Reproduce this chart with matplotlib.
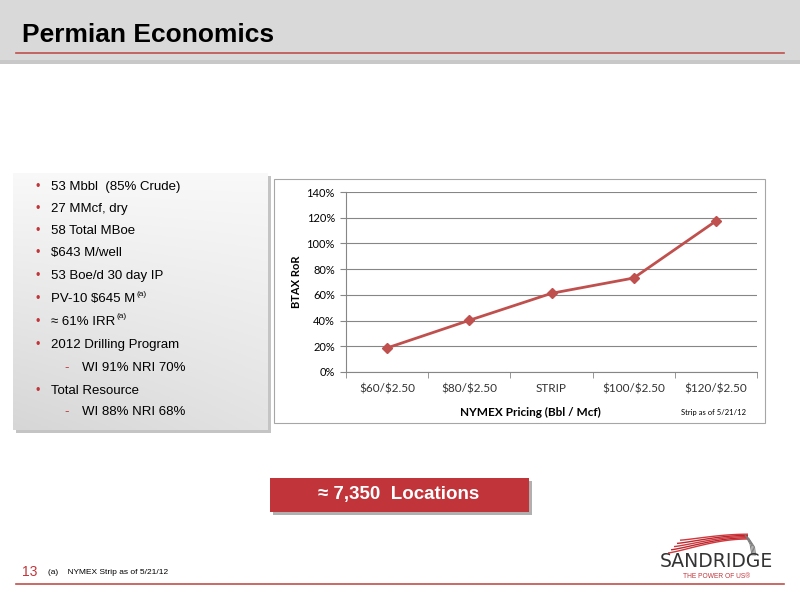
import numpy as np
import matplotlib.pyplot as plt
from matplotlib.patches import Rectangle
from matplotlib.lines import Line2D

plt.rcParams['text.parse_math'] = False
plt.rcParams['font.family'] = ['Liberation Sans', 'DejaVu Sans']

# chart data
categories = ['$60/$2.50', '$80/$2.50', 'STRIP', '$100/$2.50', '$120/$2.50']
ror = [18.7, 40.2, 61.2, 73.1, 117.4]
yticks = [0, 20, 40, 60, 80, 100, 120, 140]

# bullet text
bullets = [
    (0, '53 Mbbl  (85% Crude)', ''),
    (0, '27 MMcf, dry', ''),
    (0, '58 Total MBoe', ''),
    (0, '$643 M/well', ''),
    (0, '53 Boe/d 30 day IP', ''),
    (0, 'PV-10 $645 M', '(a)'),
    (0, '\u2248 61% IRR', '(a)'),
    (0, '2012 Drilling Program', ''),
    (1, 'WI 91% NRI 70%', ''),
    (0, 'Total Resource', ''),
    (1, 'WI 88% NRI 68%', ''),
]
bullet_y = [187, 209, 231, 253, 276, 299, 322, 345, 368, 391, 412]

W, H = 800, 600
fig = plt.figure(figsize=(8, 6), dpi=100)
red = '#C0343A'


def fx(x):
    return x / W


def fy(y):
    return 1 - y / H


def add_rect(x0, y0, x1, y1, z=0, **kw):
    r = Rectangle((fx(x0), fy(y1)), fx(x1 - x0), (y1 - y0) / H,
                  transform=fig.transFigure, zorder=z, **kw)
    fig.patches.append(r)
    return r


# header band
add_rect(0, 0, 800, 62, facecolor='#D9D9D9', edgecolor='none')
add_rect(0, 60, 800, 64, facecolor='#C8C8C8', edgecolor='none')
fig.text(fx(22), fy(35), 'Permian Economics', fontsize=19, fontweight='bold',
         va='center', ha='left', color='black')
fig.lines.append(Line2D([fx(16), fx(784)], [fy(53), fy(53)], color='#C0504D',
                        lw=1.2, transform=fig.transFigure))

# bullet box with gradient + shadow
add_rect(16, 176, 271, 433, facecolor='#C4C4C4', edgecolor='none')
gax = fig.add_axes([fx(13), fy(430), fx(268 - 13), (430 - 173) / H])
gax.set_zorder(1)
top = np.array([0.975, 0.975, 0.975])
bot = np.array([0.84, 0.84, 0.84])
tcol = np.linspace(0, 1, 120)[:, None, None]
xrow = np.linspace(0, 1, 60)[None, :, None]
mix = np.clip(tcol * (1 - 0.35 * xrow), 0, 1)
img = top * (1 - mix) + bot * mix
gax.imshow(img, aspect='auto', extent=[0, 1, 0, 1], origin='upper')
gax.set_axis_off()

for (lvl, txt, sup), y in zip(bullets, bullet_y):
    if lvl == 0:
        fig.text(fx(36), fy(y), '\u2022', color=red, fontsize=9, va='center', zorder=5)
        t = fig.text(fx(51), fy(y), txt, fontsize=9.5, va='center', zorder=5)
    else:
        fig.text(fx(64), fy(y), '-', color=red, fontsize=9.5, va='center', zorder=5)
        t = fig.text(fx(82), fy(y), txt, fontsize=9.5, va='center', zorder=5)
    if sup:
        fig.canvas.draw()
        bb = t.get_window_extent()
        fig.text(bb.x1 / W + 0.001, fy(y - 5), sup, fontsize=6, va='center', zorder=5)

# chart frame
add_rect(274, 179, 765, 423, facecolor='white', edgecolor='#A6A6A6', lw=0.8)

ax = fig.add_axes([fx(346), fy(372), fx(757 - 346), (372 - 192) / H])
ax.set_zorder(2)
ax.patch.set_alpha(0)
x = np.arange(len(categories))
ax.plot(x, ror, color='#C0504D', lw=2, marker='D', markersize=5.5)
ax.set_xlim(-0.5, len(categories) - 0.5)
ax.set_ylim(0, 140)
ax.set_yticks(yticks)
ax.set_yticklabels(['%d%%' % v for v in yticks], fontsize=8, family='Lato')
ax.set_xticks(x)
ax.set_xticklabels(categories, fontsize=8.5, family='Lato', color='#333333')
ax.set_xticks(np.arange(-0.5, len(categories)), minor=True)
ax.tick_params(axis='x', which='major', length=0, pad=8)
ax.tick_params(axis='x', which='minor', length=4, color='#868686')
ax.tick_params(axis='y', length=4, color='#868686', pad=4)
ax.grid(axis='y', color='#868686', lw=0.8)
ax.set_axisbelow(True)
for s in ['top', 'right']:
    ax.spines[s].set_visible(False)
ax.spines['left'].set_color('#868686')
ax.spines['bottom'].set_color('#868686')

fig.text(fx(296), fy(282), 'BTAX RoR', rotation=90, fontsize=8, fontweight='bold',
         family='Lato', ha='center', va='center', zorder=5)
fig.text(fx(530), fy(412), 'NYMEX Pricing (Bbl / Mcf)', fontsize=8.5, fontweight='bold',
         family='Lato', ha='center', va='center', zorder=5)
fig.text(fx(681), fy(413), 'Strip as of 5/21/12', fontsize=5.5, family='Lato',
         ha='left', va='center', zorder=5)

# red callout
add_rect(273, 481, 532, 515, facecolor='#B0B0B0', edgecolor='none')
add_rect(270, 478, 529, 512, z=1, facecolor=red, edgecolor='none')
fig.text(fx(399), fy(495), '\u2248 7,350  Locations', fontsize=13.5, fontweight='bold',
         color='white', ha='center', va='center', zorder=5)

# footer
fig.text(fx(22), fy(572), '13', color=red, fontsize=10, va='center')
fig.text(fx(48), fy(572), '(a)    NYMEX Strip as of 5/21/12', fontsize=6, va='center')
fig.lines.append(Line2D([fx(16), fx(784)], [fy(584), fy(584)], color='#C0504D',
                        lw=1.2, transform=fig.transFigure))

# logo (pixel coords)
lax = fig.add_axes([fx(650), fy(582), fx(140), 52 / H])
lax.set_xlim(650, 790)
lax.set_ylim(582, 530)
lax.set_axis_off()
tt = np.linspace(0, 1, 80)
for i in range(5):
    y0 = 553 - 3.2 * i
    y1 = 539 - 1.2 * i
    xs = 668 + 3 * i + (748 - 668 - 3 * i) * tt
    ys = y0 + (y1 - y0) * np.sin(tt * np.pi / 2) ** 1.2
    lax.plot(xs, ys, color='#B8282E' if i % 2 else '#D0363C', lw=1.0,
             solid_capstyle='butt')
for k in range(4):
    lax.plot([745 + k * 1.2, 750 + k * 1.5, 752 + k * 1.2], [535 + k, 544 + k, 555],
             color='#7A7A7A', lw=0.7)
lax.text(716, 567, 'SANDRIDGE', fontsize=13.5, color='#333333', ha='center',
         va='baseline', family='DejaVu Sans')
lax.text(717, 576, 'THE POWER OF US\u00ae', fontsize=4.8, color=red, ha='center',
         va='center')

fig.savefig('out.png', dpi=100)
